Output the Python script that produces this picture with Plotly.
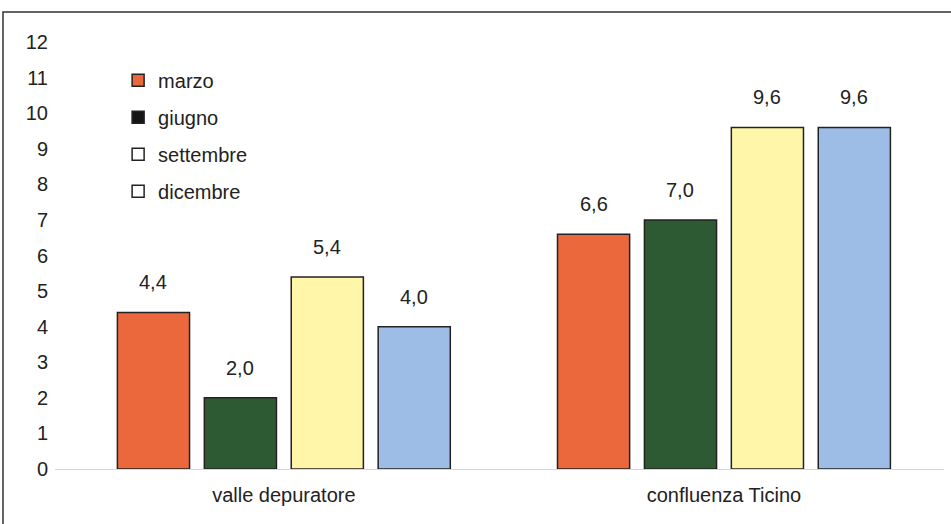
import plotly.graph_objects as go

# Sampling sites and monthly values
sites = ["valle depuratore", "confluenza Ticino"]
months = ["marzo", "giugno", "settembre", "dicembre"]
marzo = [4.4, 6.6]
giugno = [2.0, 7.0]
settembre = [5.4, 9.6]
dicembre = [4.0, 9.6]
y_ticks = list(range(0, 13))

series = [marzo, giugno, settembre, dicembre]
bar_colors = ["#EA683C", "#2E5A33", "#FFF6AA", "#9DBDE6"]
legend_colors = ["#EA683C", "#151515", "#FFFFFF", "#FFFFFF"]

FONT = "Liberation Sans, Arial"
BARGAP = 0.21
GROUPGAP = 0.17

fig = go.Figure()
for name, vals, col in zip(months, series, bar_colors):
    fig.add_trace(go.Bar(
        x=sites, y=vals, name=name, showlegend=False,
        marker=dict(color=col, line=dict(color="#222222", width=1.5)),
    ))

# Value labels above each bar, centred on the grouped bar slots
slot = (1 - BARGAP) / len(series)
annotations = []
for i, vals in enumerate(series):
    for j, v in enumerate(vals):
        annotations.append(dict(
            x=j + (i - (len(series) - 1) / 2) * slot, y=v, xref="x", yref="y",
            text=f"{v:.1f}".replace(".", ","), showarrow=False,
            yanchor="bottom", yshift=17,
            font=dict(family=FONT, size=20, color="#222222"),
        ))

# Legend entries
for name, col in zip(months, legend_colors):
    fig.add_trace(go.Scatter(
        x=[None], y=[None], mode="markers", name=name, legendgroup=name,
        marker=dict(symbol="square", size=12, color=col,
                    line=dict(color="#222222", width=1.5)),
    ))

fig.update_layout(
    width=951, height=524,
    margin=dict(l=55, r=7, t=30, b=55),
    paper_bgcolor="white", plot_bgcolor="white",
    separators=",.",
    barmode="group", bargap=BARGAP, bargroupgap=GROUPGAP,
    font=dict(family=FONT, size=20, color="#222222"),
    legend=dict(x=0.071, y=0.93, xanchor="left", yanchor="top",
                bgcolor="rgba(0,0,0,0)", tracegroupgap=8,
                font=dict(size=20), itemwidth=30),
    xaxis=dict(range=[-0.52, 1.5], showgrid=False, showline=True,
               linecolor="#d6d6d6", linewidth=1, ticks="", ticklabelstandoff=8),
    yaxis=dict(range=[0, 12.34], tickvals=y_ticks, showgrid=False,
               zeroline=False, showline=False, ticks="", ticklabelstandoff=6),
    annotations=annotations,
    shapes=[dict(type="rect", xref="paper", yref="paper",
                 x0=-0.0585, x1=1.009, y0=-0.14, y1=1.041,
                 line=dict(color="#333333", width=1.5))],
)

fig.write_html("out.html")
